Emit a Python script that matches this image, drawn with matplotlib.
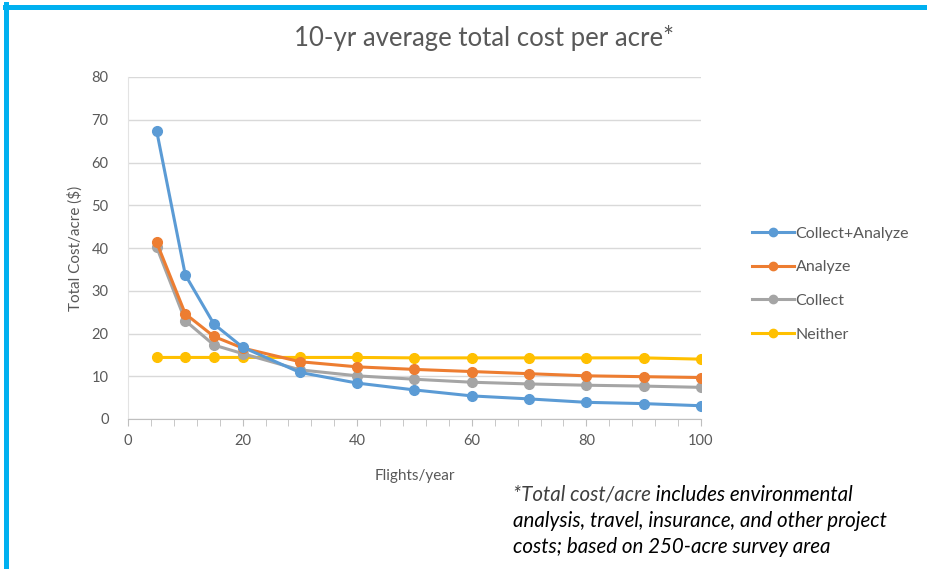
import numpy as np
import matplotlib.pyplot as plt
from matplotlib.lines import Line2D

# data
flights = [5, 10, 15, 20, 30, 40, 50, 60, 70, 80, 90, 100]
collect_analyze = [67.4, 33.7, 22.2, 16.8, 10.9, 8.4, 6.8, 5.4, 4.7, 3.9, 3.6, 3.1]
analyze = [41.3, 24.6, 19.3, 16.6, 13.4, 12.2, 11.6, 11.1, 10.6, 10.1, 9.9, 9.7]
collect = [40.2, 23.0, 17.3, 15.3, 11.5, 10.1, 9.3, 8.6, 8.2, 7.9, 7.7, 7.4]
neither = [14.4, 14.4, 14.4, 14.4, 14.4, 14.4, 14.3, 14.3, 14.3, 14.3, 14.3, 14.0]

series = [('Collect+Analyze', collect_analyze, '#5B9BD5'),
          ('Analyze', analyze, '#ED7D31'),
          ('Collect', collect, '#A5A5A5'),
          ('Neither', neither, '#FFC000')]

plt.rcParams['font.family'] = ['Lato', 'DejaVu Sans']

fig = plt.figure(figsize=(9.28, 5.69), dpi=100)
ax = fig.add_axes([128/928, 1 - 419/569, 573/928, 342/569])

for name, vals, col in series[::-1]:
    ax.plot(flights, vals, '-o', color=col, lw=2.2, ms=7, label=name, zorder=3)

ax.set_xlim(0, 100)
ax.set_ylim(0, 80)
ax.set_xticks(np.arange(0, 101, 20))
ax.set_xticks(np.arange(0, 101, 4), minor=True)
ax.set_yticks(np.arange(0, 81, 10))
ax.grid(axis='y', color='#D9D9D9', lw=1)
ax.set_axisbelow(True)
for s in ['top', 'right']:
    ax.spines[s].set_visible(False)
ax.spines['bottom'].set_color('#BFBFBF')
ax.spines['left'].set_color('#E3E3E3')
ax.tick_params(axis='x', which='both', colors='#BFBFBF', labelcolor='#595959',
               labelsize=10.5, pad=6, length=5)
ax.tick_params(axis='y', length=0, labelcolor='#595959', labelsize=10.5, pad=14)

ax.set_xlabel('Flights/year', color='#595959', fontsize=11, labelpad=15)
ax.set_ylabel('Total Cost/acre ($)', color='#595959', fontsize=11, labelpad=6)
fig.text(484/928, 1 - 38/569, '10-yr average total cost per acre*',
         ha='center', va='center', fontsize=18.5, color='#595959')

handles = [Line2D([], [], color=c, marker='o', lw=2.2, ms=6) for _, _, c in series]
leg = fig.legend(handles, [n for n, _, _ in series], loc='upper left',
                 bbox_to_anchor=(738/928, 1 - 212/569), frameon=False,
                 fontsize=11.5, labelspacing=1.22, handlelength=2.6,
                 handletextpad=0.1, labelcolor='#595959')

# footnote in italics, first part grey
fs = 14.8
t1 = fig.text(513/928, 1 - 495/569, '*Total cost/acre', style='italic',
              fontsize=fs, color='#404040', va='center')
ax.annotate(' includes environmental', xy=(1, 0), xycoords=t1,
            va='bottom', ha='left', style='italic', fontsize=fs,
            color='black', annotation_clip=False)
fig.text(513/928, 1 - 521/569, 'analysis, travel, insurance, and other project',
         style='italic', fontsize=fs, color='black', va='center')
fig.text(513/928, 1 - 547/569, 'costs; based on 250-acre survey area',
         style='italic', fontsize=fs, color='black', va='center')

# blue frame on top and left
fig.add_artist(Line2D([6.5/928, 6.5/928], [0, 1 - 4/569], color='#00B0F0', lw=3.6))
fig.add_artist(Line2D([5/928, 1], [1 - 6.5/569, 1 - 6.5/569], color='#00B0F0', lw=3.6))

fig.savefig('out.png', dpi=100)
